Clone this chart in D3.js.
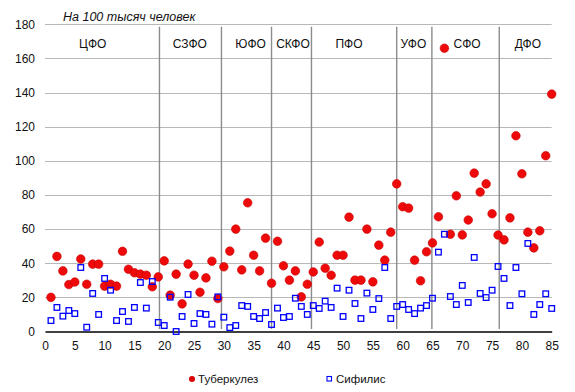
<!DOCTYPE html>
<html><head><meta charset="utf-8">
<script src="https://cdn.jsdelivr.net/npm/d3@7"></script>
<style>html,body{margin:0;padding:0;background:#fff;}svg{display:block;}</style>
</head><body>
<div id="chart"></div>
<script>
const regionIndex = d3.range(1, 86);
const tuberculosis = [20,44,35.5,27.5,29,42.5,27.7,39.5,39.5,26.6,27.7,26.6,47,36.5,34.4,33.6,33,26.2,32,41.4,
  21.3,33.6,16.2,39.5,33,23,31.4,41.2,19.3,37.9,47.1,60,36.1,75.4,44.7,35.5,54.7,28.3,52.9,38.5,
  30.1,35.5,20.3,27.7,34.9,52.4,37.1,33,44.7,44.7,67,30.1,30.1,60,29.1,50.6,41.8,58.2,86.5,73.1,
  72.3,41.8,29.7,46.7,51.9,67.2,166,57,79.5,56.6,65.3,92.8,81.7,86.5,69,56.5,53.7,66.6,114.7,92.4,
  58.2,49,59,103,139.1];
const syphilis = [6.4,14.1,9,12.3,10.5,37.5,2.5,22.3,10,31.1,24.2,6.4,11.7,5.9,14.1,28.7,13.7,29.3,5.3,3.5,
  20.1,0,8.8,21.7,4.7,10.5,10,4.3,20.3,8.4,2.3,3.5,15.2,14.7,8.8,7.6,11.1,4.1,13.7,8.2,
  8.8,19.5,14.7,10,15.2,13.5,17.8,14.1,25.4,8.8,24.2,16.4,7.6,22.5,12.9,19.3,37.5,7.6,14.7,15.8,
  12.9,10.5,13.7,15.2,19.5,46.5,57,20.5,15.8,27,17,43.4,22.3,19.9,24.2,38.1,31.1,15.2,37.5,22.1,
  51.6,10,15.8,22.1,13.5];
const districtNames = ["ЦФО","СЗФО","ЮФО","СКФО","ПФО","УФО","СФО","ДФО"];
const districtLabelX = [8.0,24.3,34.5,41.6,51.0,61.8,70.8,81.0];
const districtBounds = [19.2,29.6,38.0,44.7,59.0,64.9,76.2];
const xTicks = d3.range(0, 86, 5);
const yTicks = d3.range(0, 181, 20);
const seriesNames = ["Туберкулез","Сифилис"];
const unitLabel = "На 100 тысяч человек";

const W = 575, H = 392;
const font = "'Liberation Sans', Arial, sans-serif";
const svg = d3.select("#chart").append("svg").attr("width", W).attr("height", H)
  .style("font-family", font);

const x = d3.scaleLinear().domain([0, 85]).range([45, 551.7]);
const y = d3.scaleLinear().domain([0, 180]).range([331.5, 24.3]);

// horizontal grid
svg.append("g").selectAll("line").data(yTicks.filter(d => d > 0)).join("line")
  .attr("x1", x(0)).attr("x2", x(85))
  .attr("y1", d => Math.round(y(d)) + 0.5).attr("y2", d => Math.round(y(d)) + 0.5)
  .attr("stroke", "#b8b8b8").attr("stroke-width", 1);

// district separators
svg.append("g").selectAll("line").data(districtBounds).join("line")
  .attr("x1", d => x(d)).attr("x2", d => x(d))
  .attr("y1", y(178.5)).attr("y2", y(1.5))
  .attr("stroke", "#8c8c8c").attr("stroke-width", 1.4);

// y axis labels
const yAxis = d3.axisLeft(y).tickValues(yTicks).tickSize(0).tickPadding(10);
const gy = svg.append("g").attr("transform", `translate(${x(0)},0)`).call(yAxis);
gy.select(".domain").remove();
gy.selectAll("text").attr("font-size", 12).attr("font-family", font).attr("fill", "#111");

// x axis
const xAxis = d3.axisBottom(x).tickValues(xTicks).tickSize(0).tickPadding(10);
const gx = svg.append("g").attr("transform", `translate(0,${y(0)})`).call(xAxis);
gx.select(".domain").attr("stroke", "#000").attr("stroke-width", 1.5);
gx.selectAll("text").attr("font-size", 12).attr("font-family", font).attr("fill", "#111");

// district labels
svg.append("g").selectAll("text").data(districtNames).join("text")
  .attr("x", (d, i) => x(districtLabelX[i])).attr("y", y(169) + 4.5)
  .attr("text-anchor", "middle").attr("font-size", 12).attr("fill", "#111")
  .text(d => d);

// unit label
svg.append("text").attr("x", 63).attr("y", 21).attr("font-size", 12.5)
  .attr("font-style", "italic").attr("fill", "#111").text(unitLabel);

// tuberculosis points
svg.append("g").selectAll("circle").data(regionIndex).join("circle")
  .attr("cx", (d) => x(d)).attr("cy", (d, i) => y(tuberculosis[i]))
  .attr("r", 4.3).attr("fill", "#ee0a0a").attr("stroke", "#c80000").attr("stroke-width", 0.6);

// syphilis points
const s = 5.6;
svg.append("g").selectAll("rect").data(regionIndex).join("rect")
  .attr("x", d => x(d) - s / 2).attr("y", (d, i) => y(syphilis[i]) - s / 2)
  .attr("width", s).attr("height", s)
  .attr("fill", "none").attr("stroke", "#0000ff").attr("stroke-width", 1.3);

// legend
const lg = svg.append("g").attr("font-size", 11.5).attr("fill", "#111");
lg.append("circle").attr("cx", 192).attr("cy", 379).attr("r", 3).attr("fill", "#dd0000");
lg.append("text").attr("x", 198).attr("y", 383).text(seriesNames[0]);
lg.append("rect").attr("x", 327).attr("y", 376.5).attr("width", 4.5).attr("height", 4.5)
  .attr("fill", "none").attr("stroke", "#0000ff").attr("stroke-width", 1.1);
lg.append("text").attr("x", 336).attr("y", 383).text(seriesNames[1]);
</script>
</body></html>
